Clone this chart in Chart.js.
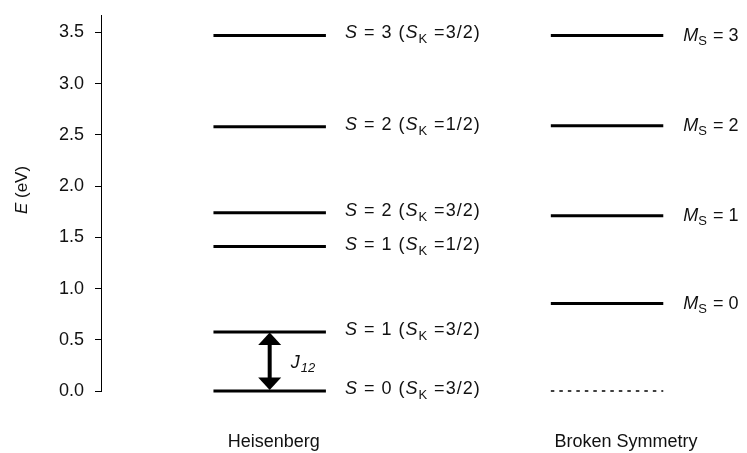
<!DOCTYPE html>
<html>
<head>
<meta charset="utf-8">
<script src="https://cdn.jsdelivr.net/npm/chart.js@4/dist/chart.umd.min.js"></script>
<style>
  html, body { margin: 0; padding: 0; background: #fff; }
  canvas { display: block; }
</style>
</head>
<body>
<canvas id="levels" width="747" height="453"></canvas>
<script>
// Column captions
const columns = ['Heisenberg', 'Broken Symmetry'];

// Heisenberg spin ladder: total spin S, core spin S_K, energy in eV
const heisenbergS = [0, 1, 1, 2, 2, 3];
const heisenbergSK = ['3/2', '3/2', '1/2', '3/2', '1/2', '3/2'];
const heisenbergE = [0, 0.575, 1.41, 1.74, 2.58, 3.47];

// Broken-symmetry determinants: M_S and energy in eV
const brokenMs = [0, 1, 2, 3];
const brokenE = [0.855, 1.71, 2.59, 3.47];
const brokenRefE = 0; // dashed reference level

// Energy axis ticks
const yTicks = [0, 0.5, 1.0, 1.5, 2.0, 2.5, 3.0, 3.5];

// ---- drawing setup ----
const FONT = '"Liberation Sans", Arial, Helvetica, sans-serif';
const INK = '#111';
const HALF = 1 / 6;          // half length of a level bar, in x units
const COL_X = [1, 2];        // column centres on the x scale

function levelDataset(centre, e, opts) {
  return Object.assign({
    data: [{ x: centre - HALF, y: e }, { x: centre + HALF, y: e }],
    borderColor: '#000',
    borderWidth: 3,
    borderCapStyle: 'butt',
    pointRadius: 0,
    pointHoverRadius: 0,
    fill: false,
    tension: 0,
    clip: false
  }, opts || {});
}

const datasets = [];
heisenbergE.forEach(e => datasets.push(levelDataset(COL_X[0], e)));
brokenE.forEach(e => datasets.push(levelDataset(COL_X[1], e)));
datasets.push(levelDataset(COL_X[1], brokenRefE, { borderWidth: 1.5, borderDash: [3.5, 5] }));

// Draws a run of text pieces (italic / subscript) left to right, returns end x
function drawRuns(ctx, x, y, runs, size) {
  runs.forEach(r => {
    const fs = r.sub ? Math.round(size * 0.72) : size;
    ctx.font = (r.it ? 'italic ' : '') + fs + 'px ' + FONT;
    ctx.fillText(r.t, x, y + (r.sub ? r.dy : 0));
    x += ctx.measureText(r.t).width + (r.gap || 0);
  });
  return x;
}
function runsWidth(ctx, runs, size) {
  let w = 0;
  runs.forEach(r => {
    const fs = r.sub ? Math.round(size * 0.72) : size;
    ctx.font = (r.it ? 'italic ' : '') + fs + 'px ' + FONT;
    w += ctx.measureText(r.t).width + (r.gap || 0);
  });
  return w;
}

const annotations = {
  id: 'levelAnnotations',
  afterDatasetsDraw(chart) {
    const { ctx, scales: { x: xs, y: ys } } = chart;
    ctx.save();
    ctx.fillStyle = INK;
    ctx.strokeStyle = '#000';
    ctx.textBaseline = 'alphabetic';
    ctx.textAlign = 'left';

    // Heisenberg level labels
    const hx = xs.getPixelForValue(COL_X[0] + HALF) + 19;
    ctx.letterSpacing = '1px';
    heisenbergE.forEach((e, i) => {
      const y = ys.getPixelForValue(e) + 3;
      drawRuns(ctx, hx, y, [
        { t: 'S', it: true },
        { t: ' = ' + heisenbergS[i] + ' (' },
        { t: 'S', it: true },
        { t: 'K', sub: true, dy: 5 },
        { t: ' =' + heisenbergSK[i] + ')' }
      ], 18);
    });
    ctx.letterSpacing = '0px';

    // Broken-symmetry labels
    const bx = xs.getPixelForValue(COL_X[1] + HALF) + 20;
    brokenE.forEach((e, i) => {
      const y = ys.getPixelForValue(e) + 5.5;
      drawRuns(ctx, bx, y, [
        { t: 'M', it: true },
        { t: 'S', sub: true, dy: 4, gap: 1 },
        { t: ' = ' + brokenMs[i] }
      ], 18);
    });

    // J12 double arrow between the two lowest Heisenberg levels
    const ax = xs.getPixelForValue(COL_X[0]);
    const yTop = ys.getPixelForValue(heisenbergE[1]);
    const yBot = ys.getPixelForValue(heisenbergE[0]);
    const headL = 12, headW = 11.5;
    ctx.lineWidth = 4;
    ctx.beginPath();
    ctx.moveTo(ax, yTop + headL);
    ctx.lineTo(ax, yBot - headL);
    ctx.stroke();
    ctx.fillStyle = '#000';
    ctx.beginPath();
    ctx.moveTo(ax, yTop + 0.5);
    ctx.lineTo(ax - headW, yTop + headL + 1);
    ctx.lineTo(ax + headW, yTop + headL + 1);
    ctx.closePath();
    ctx.fill();
    ctx.beginPath();
    ctx.moveTo(ax, yBot - 1);
    ctx.lineTo(ax - headW, yBot - headL - 1.5);
    ctx.lineTo(ax + headW, yBot - headL - 1.5);
    ctx.closePath();
    ctx.fill();
    ctx.fillStyle = INK;
    drawRuns(ctx, ax + 21, (yTop + yBot) / 2 + 6.5, [
      { t: 'J', it: true, gap: 1 },
      { t: '12', it: true, sub: true, dy: 4 }
    ], 18);

    // Column captions
    ctx.font = '18px ' + FONT;
    ctx.textAlign = 'center';
    const capShift = [4, 19];
    columns.forEach((name, i) => {
      ctx.fillText(name, xs.getPixelForValue(COL_X[i]) + capShift[i], 447);
    });

    // Energy axis title
    ctx.textAlign = 'left';
    ctx.translate(21, 190);
    ctx.rotate(-Math.PI / 2);
    const titleRuns = [{ t: 'E', it: true }, { t: ' (eV)' }];
    const tw = runsWidth(ctx, titleRuns, 17);
    drawRuns(ctx, -tw / 2, 6, titleRuns, 17);
    ctx.restore();
  }
};

new Chart(document.getElementById('levels'), {
  type: 'line',
  data: { datasets },
  options: {
    responsive: false,
    animation: false,
    events: [],
    layout: { padding: { left: 0, right: 5, top: 15, bottom: 62 } },
    plugins: { legend: { display: false }, tooltip: { enabled: false } },
    scales: {
      x: {
        type: 'linear',
        min: 0.5,
        max: 2.4,
        display: false
      },
      y: {
        type: 'linear',
        min: 0,
        max: 3.67,
        afterFit(scale) {
          scale.width = 101;
          scale.paddingTop = 0;
          scale.paddingBottom = 0;
        },
        afterBuildTicks(scale) { scale.ticks = yTicks.map(v => ({ value: v })); },
        ticks: {
          includeBounds: false,
          padding: 11,
          color: INK,
          font: { family: FONT, size: 18 },
          callback: v => Number(v).toFixed(1)
        },
        grid: {
          display: true,
          drawOnChartArea: false,
          drawTicks: true,
          tickLength: 6,
          color: '#000',
          lineWidth: 1
        },
        border: { display: true, color: '#000', width: 1 }
      }
    }
  },
  plugins: [annotations]
});
</script>
</body>
</html>
